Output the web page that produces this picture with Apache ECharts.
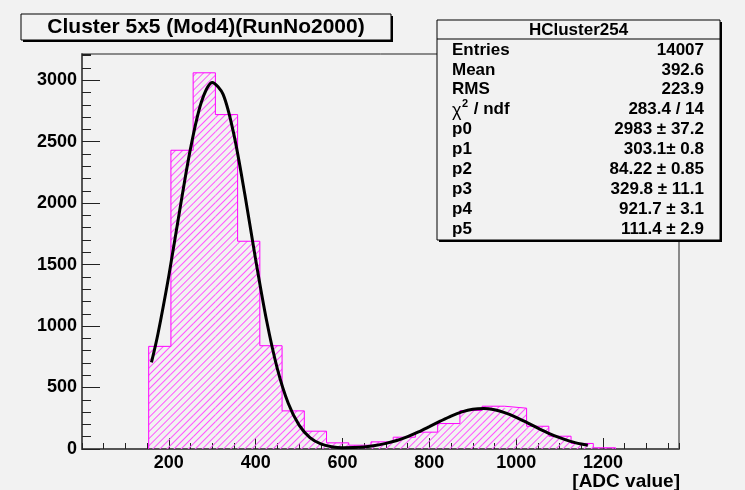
<!DOCTYPE html>
<html>
<head>
<meta charset="utf-8">
<script src="https://cdn.jsdelivr.net/npm/echarts@6/dist/echarts.min.js"></script>
<style>
  html, body { margin: 0; padding: 0; background: #f2f2f2; }
  #chart { width: 745px; height: 490px; }
</style>
</head>
<body>
<div id="chart"></div>
<script>
// histogram bins (width 51.2) and counts
var binEdges = [153.6, 204.8, 256, 307.2, 358.4, 409.6, 460.8, 512, 563.2, 614.4, 665.6,
  716.8, 768, 819.2, 870.4, 921.6, 972.8, 1024, 1075.2, 1126.4, 1177.6, 1228.8];
var binCounts = [835, 2430, 3060, 2720, 1690, 840, 310, 145, 50, 31, 58,
  96, 137, 207, 313, 348, 332, 185, 104, 45, 10];

// fit curve
var fitX = [160, 175, 200, 225, 250, 275, 300, 325, 350, 375, 400, 425, 450, 475, 500,
  525, 550, 575, 600, 625, 650, 675, 700, 725, 750, 775, 800, 825, 850, 875, 900,
  925, 950, 975, 1000, 1025, 1050, 1075, 1100, 1125, 1150, 1165];
var fitY = [704, 938, 1410, 1940, 2445, 2822, 2981, 2884, 2555, 2072, 1539, 1047, 652, 372, 194,
  93, 42, 19, 11, 12, 17, 28, 46, 69, 101, 139, 182, 226, 268, 302, 324,
  330, 319, 294, 258, 215, 170, 128, 92, 62, 40, 30];

var title = "Cluster 5x5 (Mod4)(RunNo2000)";
var statsName = "HCluster254";
var statsLabels = ["Entries", "Mean", "RMS", "", "p0", "p1", "p2", "p3", "p4", "p5"];
var statsValues = ["14007", "392.6", "223.9", "283.4 / 14", "2983 \u00b1 37.2", "303.1\u00b1 0.8",
  "84.22 \u00b1 0.85", "329.8 \u00b1 11.1", "921.7 \u00b1 3.1", "111.4 \u00b1 2.9"];
var xName = "[ADC value]";

var FONT = "'Liberation Sans', Arial, sans-serif";
var X_MAX = 1375, Y_MAX = 3213;
var gridL = 82, gridR = 66, gridT = 54, gridB = 41;

var barData = [];
var stepData = [[binEdges[0], 0]];
for (var i = 0; i < binCounts.length; i++) {
  barData.push([(binEdges[i] + binEdges[i + 1]) / 2, binCounts[i]]);
  stepData.push([binEdges[i], binCounts[i]]);
}
stepData.push([binEdges[binEdges.length - 1], 0]);
var barPx = (binEdges[1] - binEdges[0]) * (745 - gridL - gridR) / X_MAX;

var fitData = fitX.map(function (x, k) { return [x, fitY[k]]; });

// stats box
var bx = 437, by = 20, bw = 283, bh = 220;
var stats = [
  { type: "rect", shape: { x: bx + 2, y: by + 2, width: bw, height: bh }, style: { fill: "#000" } },
  { type: "rect", shape: { x: bx, y: by, width: bw, height: bh }, style: { fill: "#f2f2f2", stroke: "#000", lineWidth: 1 } },
  { type: "line", shape: { x1: bx, y1: 39, x2: bx + bw, y2: 39 }, style: { stroke: "#000", lineWidth: 1 } },
  { type: "text", x: bx + bw / 2, y: 30, style: { text: statsName, font: "bold 17px " + FONT, fill: "#000", align: "center", verticalAlign: "middle" } }
];
statsLabels.forEach(function (lab, k) {
  var y = 50 + k * 19.9;
  if (k === 3) {
    stats.push({ type: "text", x: 452, y: y + 1, style: { text: "\u03c7", font: "18px " + FONT, fill: "#000", verticalAlign: "middle" } });
    stats.push({ type: "text", x: 462, y: y - 6, style: { text: "2", font: "bold 11px " + FONT, fill: "#000", verticalAlign: "middle" } });
    stats.push({ type: "text", x: 469, y: y, style: { text: " / ndf", font: "bold 17px " + FONT, fill: "#000", verticalAlign: "middle" } });
  } else {
    stats.push({ type: "text", x: 452, y: y, style: { text: lab, font: "bold 17px " + FONT, fill: "#000", verticalAlign: "middle" } });
  }
  stats.push({ type: "text", x: 704, y: y, style: { text: statsValues[k], font: "bold 17px " + FONT, fill: "#000", align: "right", verticalAlign: "middle" } });
});

function plain(v) { return String(v); }

var chart = echarts.init(document.getElementById("chart"), null, { renderer: "canvas" });
chart.setOption({
  backgroundColor: "#f2f2f2",
  animation: false,
  grid: { left: gridL, top: gridT, right: gridR, bottom: gridB, show: true, borderColor: "#222", borderWidth: 1, backgroundColor: "transparent" },
  xAxis: [
    {
      type: "value", min: 0, max: X_MAX, interval: 200,
      axisLine: { lineStyle: { color: "#555", width: 2 } },
      axisTick: { inside: true, length: 11, lineStyle: { color: "#222" } },
      axisLabel: { formatter: plain, showMinLabel: false, showMaxLabel: false, margin: 5, color: "#000", fontSize: 18, fontWeight: "bold", fontFamily: FONT },
      splitLine: { show: false }
    },
    {
      type: "value", min: 0, max: X_MAX, interval: 50, position: "bottom",
      axisLine: { show: false },
      axisTick: { inside: true, length: 6, lineStyle: { color: "#222" } },
      axisLabel: { show: false },
      splitLine: { show: false }
    }
  ],
  yAxis: [
    {
      type: "value", min: 0, max: Y_MAX, interval: 500,
      axisLine: { show: true, lineStyle: { color: "#555", width: 2 } },
      axisTick: { show: true, inside: true, length: 18, lineStyle: { color: "#222" } },
      axisLabel: { formatter: plain, showMaxLabel: false, margin: 5, color: "#000", fontSize: 18, fontWeight: "bold", fontFamily: FONT },
      splitLine: { show: false }
    },
    {
      type: "value", min: 0, max: Y_MAX, interval: 100, position: "left",
      axisLine: { show: false },
      axisTick: { show: true, inside: true, length: 9, lineStyle: { color: "#222" } },
      axisLabel: { show: false },
      splitLine: { show: false }
    }
  ],
  series: [
    {
      type: "bar", data: barData, barWidth: barPx, z: 1,
      itemStyle: {
        color: "rgba(0,0,0,0)",
        decal: {
          symbol: "rect", symbolSize: 1, color: "#ff55ff", backgroundColor: "rgba(0,0,0,0)",
          dashArrayX: [1, 0], dashArrayY: [1, 4], rotation: -Math.PI / 4
        }
      }
    },
    {
      type: "line", step: "end", data: stepData, z: 2, symbol: "none",
      lineStyle: { color: "#ff00ff", width: 1 }
    },
    {
      type: "line", data: fitData, z: 3, symbol: "none", smooth: 0.3,
      lineStyle: { color: "#000", width: 3 }
    }
  ],
  graphic: [
    { type: "rect", shape: { x: 23, y: 16, width: 370, height: 26 }, style: { fill: "#000" } },
    { type: "rect", shape: { x: 21, y: 14, width: 370, height: 26 }, style: { fill: "#f2f2f2", stroke: "#000", lineWidth: 1 } },
    { type: "text", x: 206, y: 27, style: { text: title, font: "bold 21px " + FONT, fill: "#000", align: "center", verticalAlign: "middle" } },
    { type: "group", children: stats },
    { type: "text", x: 680, y: 482, style: { text: xName, font: "bold 19px " + FONT, fill: "#000", align: "right", verticalAlign: "middle" } }
  ]
});
</script>
</body>
</html>
